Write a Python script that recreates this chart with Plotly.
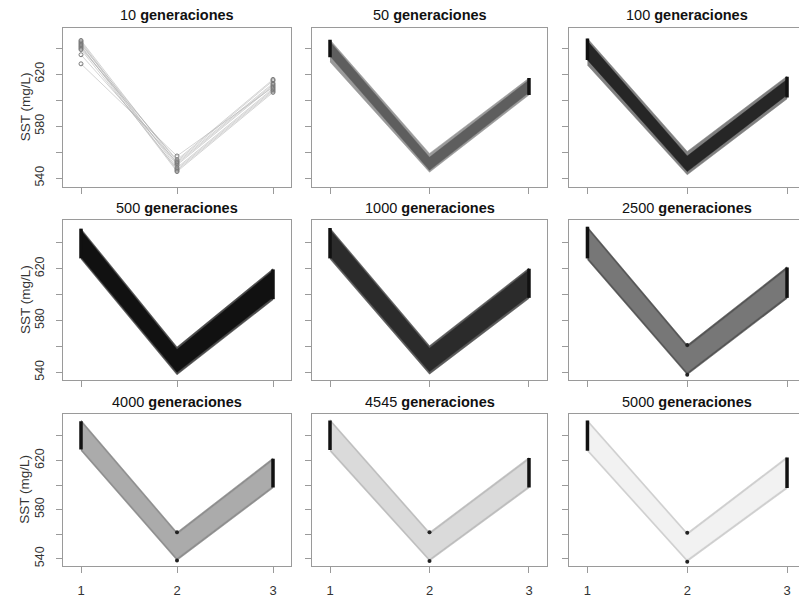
import plotly.graph_objects as go

# ---------------- data ----------------
gens = [10, 50, 100, 500, 1000, 2500, 4000, 4545, 5000]
x_sites = [1, 2, 3]

# 10 generations: individual solutions (SST at sites 1, 2, 3)
gen10_site1 = [646, 645, 644, 643, 642, 641, 640, 639, 635, 628]
gen10_site2 = [551, 548, 546, 553, 545, 550, 554, 547, 552, 557]
gen10_site3 = [612, 609, 607, 615, 606, 611, 616, 608, 613, 610]

# envelopes of the solution bundles (panels 50 ... 5000), values at sites 1,2,3
outer_hi = [[646.5, 559.0, 617.0], [647.5, 560.5, 618.5], [651.0, 559.5, 620.0], [651.5, 560.5, 620.5],
            [652.5, 561.0, 621.5], [653.0, 561.5, 622.0], [653.5, 561.5, 622.5], [653.0, 561.0, 623.0]]
outer_lo = [[629.5, 544.5, 604.0], [627.0, 542.5, 601.0], [627.5, 538.0, 596.0], [627.5, 538.5, 597.0],
            [627.0, 538.0, 597.0], [628.0, 538.5, 597.5], [627.5, 538.0, 597.5], [627.5, 537.5, 597.0]]
# dense core of each bundle
inner_hi = [[645.0, 556.0, 615.5], [645.5, 557.0, 616.0], [649.5, 557.5, 618.5], [650.0, 558.5, 619.0],
            [650.5, 559.0, 619.5], [651.0, 559.5, 620.0], [651.5, 559.5, 620.5], [651.0, 559.0, 621.0]]
inner_lo = [[634.0, 546.0, 606.0], [631.0, 545.0, 604.0], [629.0, 540.0, 598.0], [629.5, 540.5, 599.0],
            [629.0, 540.0, 599.0], [630.0, 540.5, 599.5], [629.5, 540.0, 599.5], [629.5, 539.5, 599.0]]
# columns of points at sites 1 and 3 (low, high)
site1_pts = [[633.0, 646.5], [631.0, 647.5], [628.0, 651.0], [628.0, 651.5],
             [628.0, 652.5], [629.0, 652.0], [628.5, 652.5], [628.0, 652.5]]
site3_pts = [[604.0, 617.0], [602.0, 618.0], [596.5, 619.5], [597.5, 620.0],
             [597.5, 621.0], [598.0, 621.5], [598.0, 622.0], [597.5, 622.5]]

y_ticks = [540, 560, 580, 600, 620, 640]
y_tick_text = ["540", "", "580", "", "620", ""]
x_tick_text = ["1", "2", "3"]

# ---------------- styles ----------------
outer_fill = ["#9a9a9a", "#808080", "#4a4a4a", "#5a5a5a", "#555555", "#8e8e8e", "#bdbdbd", "#cfcfcf"]
inner_fill = ["#5e5e5e", "#262626", "#111111", "#2b2b2b", "#777777", "#ababab", "#dadada", "#f2f2f2"]

W, H = 799, 598
col_px = [(63, 291), (312, 547), (569, 799)]
col_rng = [(0.8125, 3.1875), (0.819, 3.181), (0.815, 3.12)]
row_px = [(28, 186.5), (220, 380), (413.5, 566)]
row_rng = [(533.5, 655.6), (534.0, 657.7), (534.0, 658.3)]
title_px = [15, 208, 402]

FONT = "Liberation Sans, Arial, Helvetica, sans-serif"
BOX = "#9a9a9a"

fig = go.Figure()
layout = dict(width=W, height=H, margin=dict(l=0, r=0, t=0, b=0),
              paper_bgcolor="white", plot_bgcolor="white", showlegend=False,
              font=dict(family=FONT, color="#333333"))
annotations = []

for i, g in enumerate(gens):
    r, c = divmod(i, 3)
    n = "" if i == 0 else str(i + 1)
    xa, ya = "x" + n, "y" + n
    layout["xaxis" + n] = dict(
        domain=[col_px[c][0] / W, col_px[c][1] / W], range=list(col_rng[c]), anchor=ya,
        showgrid=False, zeroline=False, showline=True, linecolor=BOX, linewidth=1, mirror=True,
        ticks="outside", ticklen=6, tickcolor=BOX, tickvals=x_sites, ticktext=x_tick_text,
        showticklabels=(r == 2), tickfont=dict(size=13, color="#333333"), ticklabelstandoff=6)
    layout["yaxis" + n] = dict(
        domain=[1 - row_px[r][1] / H, 1 - row_px[r][0] / H], range=list(row_rng[r]), anchor=xa,
        showgrid=False, zeroline=False, showline=True, linecolor=BOX, linewidth=1, mirror=(c != 2),
        ticks="outside", ticklen=6, tickcolor=BOX, tickvals=y_ticks, ticktext=y_tick_text,
        tickangle=-90, showticklabels=(c == 0), tickfont=dict(size=12.5, color="#333333"),
        ticklabelstandoff=7)

    annotations.append(dict(text=f"{g} <b>generaciones</b>", x=2, xref=xa, y=1 - title_px[r] / H,
                            yref="paper", xanchor="center", yanchor="middle", showarrow=False,
                            font=dict(size=14.5, color="#111111", family=FONT)))

    if i == 0:
        for a, b, d in zip(gen10_site1, gen10_site2, gen10_site3):
            fig.add_trace(go.Scatter(x=x_sites, y=[a, b, d], mode="lines+markers", xaxis=xa, yaxis=ya,
                                     line=dict(color="rgba(170,170,170,0.5)", width=1),
                                     marker=dict(symbol="circle-open", size=4, color="#7a7a7a",
                                                 line=dict(width=1)),
                                     hoverinfo="skip"))
        continue

    k = i - 1
    hi, lo = outer_hi[k], outer_lo[k]
    fig.add_trace(go.Scatter(x=x_sites + x_sites[::-1], y=hi + lo[::-1], mode="lines", fill="toself",
                             fillcolor=outer_fill[k], xaxis=xa, yaxis=ya,
                             line=dict(color=outer_fill[k], width=0.5), hoverinfo="skip"))
    ihi, ilo = inner_hi[k], inner_lo[k]
    fig.add_trace(go.Scatter(x=x_sites + x_sites[::-1], y=ihi + ilo[::-1], mode="lines", fill="toself",
                             fillcolor=inner_fill[k], xaxis=xa, yaxis=ya,
                             line=dict(color=inner_fill[k], width=0.5), hoverinfo="skip"))
    for xs, (a, b) in ((1, site1_pts[k]), (3, site3_pts[k])):
        fig.add_trace(go.Scatter(x=[xs, xs], y=[a, b], mode="lines", xaxis=xa, yaxis=ya,
                                 line=dict(color="#111111", width=3.5), hoverinfo="skip"))
    if k >= 4:
        fig.add_trace(go.Scatter(x=[2, 2], y=[lo[1], hi[1]], mode="markers", xaxis=xa, yaxis=ya,
                                 marker=dict(size=4, color="#222222"), hoverinfo="skip"))

for r in range(3):
    annotations.append(dict(text="SST (mg/L)", x=25 / W, xref="paper",
                            y=1 - (row_px[r][0] + row_px[r][1]) / 2 / H, yref="paper",
                            textangle=-90, showarrow=False, xanchor="center", yanchor="middle",
                            font=dict(size=13.5, color="#333333", family=FONT)))

layout["annotations"] = annotations
fig.update_layout(**layout)
fig.write_html("out.html")
